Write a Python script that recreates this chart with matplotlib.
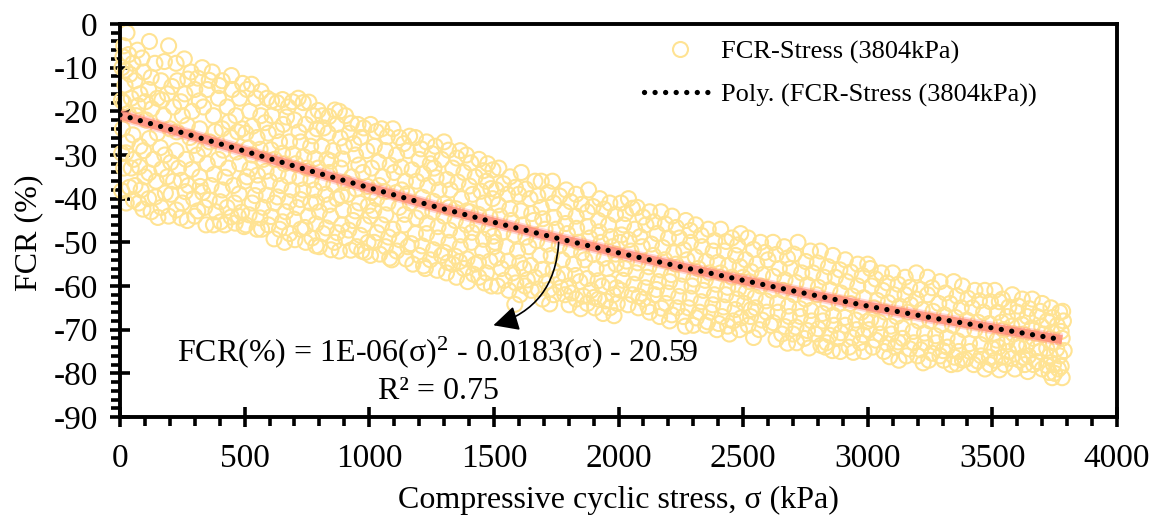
import matplotlib
matplotlib.use('Agg')
import matplotlib.pyplot as plt
from matplotlib.lines import Line2D
from matplotlib.ticker import MultipleLocator

plt.rcParams['font.family'] = ['Liberation Serif', 'DejaVu Serif']
plt.rcParams['mathtext.fontset'] = 'custom'
plt.rcParams['mathtext.rm'] = 'Liberation Serif'
plt.rcParams['mathtext.default'] = 'regular'
plt.rcParams['axes.unicode_minus'] = False

# values, (stress kPa, FCR %), one list per stress band
band_0 = [(28,-2),(15,-5),(35,-7),(8,-10),(52,-9),(70,-6),(118,-4),(195,-5),(60,-13),(20,-14),(95,-11),(140,-9),(165,-13),
          (225,-9),(258,-8),(15,-18),(45,-17),(80,-16),(115,-15),(150,-17),(190,-16),(230,-13),(285,-11),(330,-10),(370,-11),
          (410,-13),(450,-15),(300,-15),(260,-16),(215,-19),(350,-15),(395,-17),(430,-19),(480,-17),(10,-24),(65,-21),
          (105,-22),(175,-21),(250,-21),(290,-20),(335,-19),(375,-21),(465,-21),(410,-24),(320,-24),(30,-27),(150,-25),
          (200,-24),(280,-26),(360,-27),(445,-26),(490,-24),(15,-33),(55,-31),(95,-29),(135,-31),(180,-30),(225,-29),
          (265,-31),(310,-30),(350,-32),(395,-31),(435,-33),(480,-32),(25,-41),(60,-37),(100,-35),(145,-36),(190,-35),
          (235,-33),(275,-37),(320,-35),(365,-37),(410,-38),(455,-37),(500,-36),(75,-41),(115,-40),(165,-42),(205,-39),
          (250,-41),(295,-40),(340,-42),(385,-43),(430,-42),(475,-44),(125,-43),(195,-44),(270,-45),(345,-46),(375,-46),
          (420,-46),(45,-33),(80,-28),(85,-38),(215,-36),(300,-44),(460,-41)]
band_500 = [(510,-15),(545,-17),(590,-17),(630,-18),(675,-19),(715,-17),(735,-18),(775,-21),(812,-21),(880,-20),(905,-21),
            (955,-23),(520,-20),(565,-21),(610,-21),(655,-23),(700,-22),(745,-23),(790,-24),(835,-25),(870,-23),(920,-25),
            (965,-26),(505,-25),(550,-26),(595,-25),(640,-27),(680,-27),(725,-27),(765,-28),(810,-28),(855,-29),(900,-28),
            (945,-30),(990,-29),(530,-30),(575,-31),(620,-31),(660,-32),(705,-32),(750,-33),(795,-33),(840,-34),(885,-33),
            (930,-35),(975,-34),(510,-35),(555,-37),(600,-36),(645,-37),(690,-38),(735,-38),(780,-38),(825,-39),(870,-40),
            (915,-39),(960,-41),(530,-41),(575,-42),(620,-41),(665,-43),(710,-42),(755,-44),(800,-43),(845,-44),(890,-46),
            (935,-45),(980,-46),(505,-46),(550,-47),(595,-46),(640,-47),(680,-48),(725,-47),(770,-49),(815,-48),(860,-50),
            (905,-49),(950,-51),(995,-50),(660,-50),(745,-50),(800,-51),(880,-52),(970,-52),(568,-47),(830,-31),(765,-41)]
band_1000 = [(1005,-23),(1050,-24),(1095,-24),(1120,-26),(1185,-26),(1230,-27),(1265,-28),(1300,-27),(1365,-29),(1390,-30),
             (1440,-31),(1475,-32),(1020,-28),(1065,-29),(1110,-30),(1155,-29),(1200,-31),(1245,-32),(1290,-31),(1335,-33),
             (1380,-34),(1425,-35),(1470,-36),(1010,-33),(1055,-35),(1100,-34),(1145,-36),(1190,-36),(1235,-37),(1280,-38),
             (1325,-38),(1370,-40),(1415,-39),(1460,-41),(1495,-40),(1030,-40),(1075,-41),(1120,-42),(1165,-41),(1210,-43),
             (1255,-43),(1300,-44),(1345,-45),(1390,-46),(1435,-46),(1480,-47),(1005,-44),(1050,-46),(1095,-47),(1140,-46),
             (1185,-48),(1230,-48),(1275,-49),(1320,-50),(1365,-51),(1410,-50),(1455,-52),(1500,-51),(1020,-50),(1065,-51),
             (1110,-52),(1155,-51),(1200,-53),(1245,-54),(1290,-53),(1335,-55),(1380,-56),(1425,-55),(1470,-57),(1005,-53),
             (1090,-54),(1175,-55),(1225,-56),(1310,-57),(1350,-58),(1395,-59),(1440,-58),(1490,-60),(1130,-38),(1260,-33),
             (1405,-43),(1040,-37),(1320,-42)]
band_1500 = [(1520,-33),(1565,-35),(1610,-34),(1665,-36),(1690,-36),(1735,-36),(1790,-38),(1830,-39),(1880,-38),(1925,-40),
             (1965,-41),(1510,-38),(1555,-39),(1600,-39),(1645,-40),(1690,-42),(1740,-41),(1785,-43),(1830,-44),(1875,-43),
             (1920,-45),(1960,-46),(1525,-44),(1570,-45),(1615,-46),(1660,-45),(1705,-47),(1750,-47),(1795,-48),(1840,-50),
             (1885,-49),(1930,-50),(1975,-51),(1505,-50),(1550,-51),(1595,-52),(1640,-51),(1685,-53),(1730,-53),(1775,-54),
             (1820,-55),(1865,-54),(1910,-56),(1955,-56),(1990,-55),(1530,-56),(1575,-57),(1620,-56),(1665,-58),(1710,-59),
             (1755,-58),(1800,-60),(1845,-59),(1890,-61),(1935,-60),(1980,-62),(1515,-60),(1560,-61),(1605,-62),(1650,-61),
             (1695,-63),(1740,-62),(1785,-62),(1830,-63),(1875,-64),(1920,-63),(1965,-65),(1625,-60),(1905,-65),(1995,-64)]
band_2000 = [(2010,-41),(2040,-40),(2075,-42),(2125,-43),(2170,-43),(2215,-44),(2270,-45),(2310,-46),(2360,-47),(2410,-47),
             (2455,-49),(2490,-48),(2020,-46),(2065,-47),(2110,-46),(2155,-48),(2200,-49),(2245,-49),(2290,-50),(2335,-51),
             (2380,-52),(2425,-52),(2470,-53),(2005,-50),(2050,-52),(2095,-51),(2140,-53),(2185,-54),(2230,-55),(2275,-54),
             (2320,-56),(2365,-57),(2410,-57),(2455,-58),(2500,-58),(2025,-56),(2070,-57),(2115,-58),(2160,-59),(2205,-59),
             (2250,-60),(2295,-60),(2340,-61),(2385,-62),(2430,-62),(2475,-63),(2010,-61),(2055,-62),(2100,-63),(2145,-62),
             (2190,-64),(2235,-65),(2280,-65),(2325,-66),(2370,-66),(2415,-67),(2460,-68),(2080,-65),(2125,-66),(2165,-67),
             (2205,-68),(2260,-67),(2300,-69),(2350,-69),(2395,-70),(2445,-71),(2485,-70)]
band_2500 = [(2520,-49),(2570,-50),(2620,-50),(2665,-51),(2720,-50),(2770,-52),(2810,-52),(2860,-53),(2910,-54),(2960,-55),
             (3000,-55),(2510,-54),(2555,-55),(2600,-54),(2645,-56),(2690,-56),(2735,-57),(2780,-57),(2825,-58),(2870,-58),
             (2915,-59),(2960,-60),(2525,-59),(2570,-60),(2615,-61),(2660,-61),(2705,-62),(2750,-63),(2795,-62),(2840,-64),
             (2885,-64),(2930,-64),(2975,-66),(2505,-64),(2550,-65),(2595,-66),(2640,-66),(2685,-67),(2730,-67),(2775,-68),
             (2820,-68),(2865,-69),(2910,-69),(2955,-70),(2520,-69),(2565,-70),(2610,-69),(2655,-71),(2700,-71),(2745,-72),
             (2790,-71),(2835,-73),(2880,-72),(2925,-74),(2970,-73),(2530,-67),(2715,-73),(2830,-74),(2985,-75),(2890,-75)]
band_3000 = [(3010,-56),(3055,-57),(3100,-57),(3150,-58),(3195,-57),(3240,-58),(3290,-59),(3345,-59),(3380,-60),(3430,-61),
             (3470,-61),(3015,-60),(3060,-61),(3105,-62),(3150,-62),(3195,-63),(3240,-62),(3285,-64),(3330,-64),(3375,-65),
             (3420,-65),(3465,-66),(3025,-65),(3070,-66),(3115,-67),(3160,-66),(3205,-68),(3250,-68),(3295,-69),(3340,-69),
             (3385,-70),(3430,-70),(3475,-71),(3005,-70),(3050,-71),(3095,-71),(3140,-72),(3185,-73),(3230,-73),(3275,-73),
             (3320,-74),(3365,-75),(3410,-75),(3455,-76),(3020,-74),(3065,-75),(3110,-74),(3155,-76),(3200,-76),(3245,-77),
             (3290,-76),(3335,-78),(3380,-77),(3425,-78),(3470,-79),(3125,-77),(3305,-77),(3490,-78)]
band_3500 = [(3510,-61),(3540,-63),(3580,-62),(3620,-63),(3660,-63),(3700,-64),(3735,-65),(3770,-66),(3520,-66),(3560,-67),
             (3600,-66),(3640,-67),(3680,-67),(3720,-68),(3760,-69),(3785,-68),(3505,-71),(3545,-70),(3585,-71),(3625,-71),
             (3665,-72),(3705,-71),(3745,-73),(3780,-72),(3525,-74),(3565,-75),(3605,-74),(3645,-76),(3690,-75),(3730,-76),
             (3770,-76),(3510,-77),(3550,-78),(3590,-79),(3630,-78),(3665,-78),(3700,-79),(3745,-78),(3740,-81),(3750,-80),
             (3780,-81),(3610,-77),(3765,-79)]

# second pass over the cloud, the circles between the first ones
fill_0 = [(12,-7.5),(40,-11.5),(88,-7.8),(125,-12.2),(178,-8.6),(33,-20.5),(72,-18.7),(128,-19.4),(208,-14.3),(244,-17.8),
          (272,-12.6),(312,-12.4),(358,-12.9),(398,-14.1),(447,-11.8),(492,-13.6),(318,-17.6),(382,-24.6),(438,-22.4),
          (228,-24.7),(162,-28.3),(118,-26.2),(52,-25.4),(7,-29.6),(297,-27.8),(338,-28.6),(414,-28.9),(468,-29.3),
          (78,-32.7),(116,-34.1),(168,-33.2),(204,-31.7),(246,-35.8),(288,-33.3),(332,-38.6),(378,-34.4),(422,-35.1),
          (478,-38.9),(38,-37.4),(7,-38.2),(142,-39.6),(182,-38.7),(226,-42.6),(262,-38.4),(312,-42.8),(358,-40.3),
          (402,-40.7),(446,-44.2),(488,-43.1),(92,-42.4),(152,-44.3),(244,-44.4),(322,-37.2),(404,-45.3),(462,-45.6),
          (498,-46.4),(54,-40.3),(24,-29.5),(6,-17.5),(22,-10.6),(102,-17.8),(168,-17.4),(472,-24.7),(270,-23.2)]
fill_500 = [(528,-13.8),(566,-15.4),(608,-17.6),(652,-17.3),(692,-17.8),(758,-17.9),(795,-19.8),(838,-21.2),(862,-19.7),
            (928,-22.7),(978,-23.8),(532,-23.4),(582,-22.6),(628,-24.4),(668,-21.3),(718,-24.7),(772,-25.6),(818,-23.8),
            (884,-26.1),(938,-27.4),(516,-28.4),(562,-28.7),(606,-28.8),(652,-29.6),(694,-29.8),(738,-30.4),(782,-30.8),
            (846,-31.4),(892,-30.9),(958,-32.3),(522,-33.2),(586,-33.7),(634,-34.3),(676,-34.9),(722,-35.4),(766,-35.7),
            (812,-36.4),(858,-36.8),(902,-36.3),(948,-37.8),(992,-37.2),(542,-39.3),(588,-39.2),(632,-39.6),(678,-40.7),
            (724,-40.2),(788,-40.8),(838,-41.4),(896,-42.6),(944,-42.8),(996,-41.6),(518,-43.7),(562,-44.4),(606,-44.1),
            (652,-45.3),(698,-44.7),(742,-46.6),(786,-45.8),(828,-46.7),(872,-47.8),(918,-47.2),(964,-48.4),(618,-49.2),
            (702,-49.4),(786,-50.8),(846,-51.7),(926,-51.8),(984,-52.3),(552,-34.6),(888,-39.3)]
fill_1000 = [(1028,-24.6),(1072,-25.8),(1138,-27.4),(1162,-25.7),(1208,-28.6),(1252,-29.7),(1318,-28.9),(1352,-30.7),
             (1408,-31.8),(1458,-33.6),(1496,-33.4),(1038,-31.6),(1084,-32.3),(1128,-32.8),(1172,-33.4),(1218,-34.3),
             (1268,-35.2),(1312,-35.6),(1356,-36.2),(1402,-37.1),(1448,-38.3),(1488,-37.7),(1008,-38.6),(1062,-38.4),
             (1108,-38.6),(1152,-38.9),(1214,-39.7),(1258,-40.6),(1302,-41.2),(1348,-42.3),(1392,-42.8),(1438,-43.6),
             (1484,-44.2),(1018,-42.7),(1066,-43.7),(1142,-43.6),(1188,-44.4),(1232,-45.6),(1276,-46.4),(1322,-47.2),
             (1368,-48.3),(1412,-47.7),(1458,-49.3),(1498,-48.6),(1032,-47.8),(1078,-48.8),(1122,-49.4),(1168,-50.3),
             (1212,-50.8),(1258,-51.7),(1302,-52.3),(1346,-53.2),(1392,-53.8),(1438,-54.6),(1484,-54.3),(1042,-52.7),
             (1082,-53.6),(1148,-53.8),(1218,-55.4),(1272,-56.4),(1362,-54.4),(1418,-57.3),(1462,-59.3),(1316,-54.6)]
fill_1500 = [(1538,-36.6),(1586,-37.4),(1628,-37.8),(1676,-39.3),(1718,-38.6),(1764,-39.4),(1808,-40.7),(1852,-41.3),
             (1898,-41.8),(1942,-42.4),(1988,-43.6),(1518,-41.4),(1564,-42.3),(1608,-42.8),(1652,-43.4),(1696,-44.6),
             (1742,-44.3),(1788,-45.7),(1832,-46.8),(1878,-46.4),(1922,-47.6),(1968,-48.7),(1536,-47.6),(1582,-48.3),
             (1628,-48.8),(1672,-49.6),(1716,-50.4),(1762,-50.8),(1808,-51.7),(1852,-52.4),(1898,-52.8),(1942,-53.6),
             (1988,-52.7),(1512,-53.6),(1558,-54.3),(1604,-54.7),(1648,-55.3),(1694,-56.2),(1738,-56.4),(1784,-57.3),
             (1828,-57.6),(1874,-58.3),(1918,-58.8),(1964,-59.3),(1542,-58.7),(1588,-59.3),(1634,-58.6),(1678,-60.7),
             (1722,-60.8),(1768,-60.4),(1812,-61.6),(1858,-62.3),(1902,-62.6),(1948,-63.4),(1992,-60.4),(1584,-64.2),
             (1724,-64.1),(1802,-64.3),(1848,-65.2),(1938,-66.3),(1982,-66.8)]
fill_2000 = [(2028,-43.4),(2056,-42.2),(2098,-44.2),(2142,-45.3),(2188,-45.8),(2232,-46.6),(2288,-47.3),(2332,-48.4),
             (2386,-49.6),(2432,-49.8),(2478,-50.6),(2012,-48.3),(2042,-49.4),(2086,-48.7),(2132,-50.4),(2178,-51.2),
             (2222,-52.4),(2262,-51.7),(2308,-53.3),(2352,-54.4),(2398,-54.6),(2442,-55.3),(2488,-55.6),(2032,-54.3),
             (2078,-54.7),(2122,-55.6),(2168,-56.3),(2212,-57.4),(2258,-57.3),(2302,-58.4),(2348,-58.7),(2392,-59.6),
             (2438,-60.3),(2482,-60.6),(2018,-58.7),(2062,-59.6),(2108,-60.4),(2152,-60.8),(2198,-61.6),(2242,-62.4),
             (2288,-62.8),(2332,-63.6),(2378,-64.3),(2422,-64.8),(2468,-65.4),(2038,-64.3),(2082,-62.4),(2118,-64.7),
             (2214,-66.6),(2268,-69.2),(2312,-67.3),(2358,-68.2),(2402,-68.6),(2438,-69.2),(2492,-67.3),(2172,-65.1)]
fill_2500 = [(2542,-51.6),(2588,-52.3),(2632,-52.8),(2678,-53.6),(2704,-52.7),(2752,-54.4),(2798,-54.7),(2842,-55.6),
             (2888,-56.3),(2932,-56.8),(2978,-57.6),(2532,-56.7),(2578,-57.4),(2622,-57.8),(2668,-58.6),(2712,-59.2),
             (2758,-59.7),(2802,-60.3),(2848,-60.8),(2892,-61.6),(2938,-62.3),(2984,-62.7),(2512,-61.4),(2548,-62.6),
             (2592,-63.4),(2638,-63.8),(2682,-64.6),(2728,-65.2),(2772,-65.6),(2818,-66.3),(2862,-66.7),(2908,-67.2),
             (2952,-67.8),(2996,-68.2),(2532,-65.4),(2576,-67.8),(2622,-68.4),(2668,-69.3),(2712,-69.4),(2758,-70.2),
             (2802,-69.8),(2848,-71.3),(2892,-70.7),(2938,-71.8),(2982,-71.2),(2542,-71.8),(2632,-72.2),(2678,-73.1),
             (2764,-74.2),(2812,-73.6),(2942,-75.2),(2858,-74.8)]
fill_3000 = [(3032,-58.4),(3078,-59.3),(3122,-59.6),(3168,-60.3),(3212,-60.8),(3258,-60.4),(3312,-61.6),(3358,-62.3),
             (3402,-62.8),(3448,-63.4),(3492,-63.6),(3038,-63.3),(3082,-63.8),(3128,-64.6),(3172,-64.3),(3218,-65.4),
             (3262,-65.8),(3308,-66.6),(3352,-67.2),(3398,-67.8),(3442,-68.3),(3488,-68.6),(3012,-67.6),(3048,-68.4),
             (3092,-69.2),(3138,-69.6),(3182,-70.4),(3228,-70.8),(3272,-71.4),(3318,-71.8),(3362,-72.6),(3408,-73.2),
             (3452,-73.4),(3498,-74.2),(3032,-72.4),(3078,-73.2),(3122,-72.8),(3168,-74.4),(3212,-74.6),(3258,-75.4),
             (3302,-74.8),(3348,-76.3),(3392,-76.8),(3442,-77.2),(3488,-76.3),(3088,-76.2),(3222,-77.6),(3358,-77.8)]
fill_3500 = [(3528,-63.6),(3566,-64.8),(3604,-64.6),(3648,-65.2),(3692,-65.8),(3742,-67.2),(3782,-65.8),(3536,-68.3),
             (3578,-69.2),(3618,-68.8),(3658,-69.6),(3698,-69.3),(3738,-70.6),(3776,-70.4),(3518,-72.4),(3558,-72.8),
             (3598,-73.4),(3638,-73.6),(3678,-74.2),(3718,-74.3),(3758,-74.4),(3788,-74.8),(3538,-76.3),(3578,-76.6),
             (3622,-76.3),(3678,-77.3),(3718,-78.2),(3776,-78.4),(3528,-79.2),(3642,-79.6),(3728,-79.8)]

trend_stress = [0, 250, 500, 750, 1000, 1250, 1500, 1750, 2000, 2250, 2500, 2750, 3000, 3250, 3500, 3780]
trend_fcr = [-20.8, -24.9, -29.1, -33.4, -37.5, -41.6, -45.4, -49.0, -52.4, -55.6, -58.7, -61.7, -64.6, -67.2, -69.6, -72.3]

x_ticks = [0, 500, 1000, 1500, 2000, 2500, 3000, 3500, 4000]
y_ticks = [0, -10, -20, -30, -40, -50, -60, -70, -80, -90]

all_points = (band_0 + band_500 + band_1000 + band_1500 + band_2000 + band_2500 + band_3000 + band_3500
              + fill_0 + fill_500 + fill_1000 + fill_1500 + fill_2000 + fill_2500 + fill_3000 + fill_3500)
stress = [p[0] for p in all_points]
fcr = [p[1] for p in all_points]

circle_col = '#FFE393'

fig = plt.figure(figsize=(11.56, 5.19), dpi=100)
ax = fig.add_axes([120/1156, 1 - 417/519, (1117 - 120)/1156, (417 - 24)/519])

ax.scatter(stress, fcr, s=117, facecolors='none', edgecolors=circle_col, linewidths=1.5, clip_on=False, zorder=2)

# soft red band under the dotted trend line
ax.plot(trend_stress, trend_fcr, color='#FF8A78', lw=9, alpha=0.35, solid_capstyle='butt', zorder=3)
ax.plot(trend_stress, trend_fcr, color='#FF8A78', lw=6.5, alpha=0.8, solid_capstyle='butt', zorder=3)
ax.plot(trend_stress, trend_fcr, color='black', lw=3.8, linestyle=(0, (0.01, 1.99)),
        dash_capstyle='round', zorder=4)

ax.set_xlim(0, 4000)
ax.set_ylim(-90, 0)
ax.set_xticks(x_ticks)
ax.set_yticks(y_ticks)
ax.xaxis.set_minor_locator(MultipleLocator(100))
ax.yaxis.set_minor_locator(MultipleLocator(2))
ax.tick_params(axis='both', which='major', direction='inout', length=14, width=2.6, labelsize=24)
ax.tick_params(axis='both', which='minor', direction='out', length=6.5, width=2.6)
ax.tick_params(axis='x', which='major', pad=12)
ax.tick_params(axis='y', which='major', pad=9)
for side in ax.spines:
    ax.spines[side].set_linewidth(2.8)

ax.set_xlabel('Compressive cyclic stress, σ (kPa)', fontsize=23, labelpad=9)
ax.set_ylabel('FCR (%)', fontsize=23, labelpad=7, y=0.47)

ax.annotate('', xy=(1498, -69), xytext=(1760, -50),
            arrowprops=dict(arrowstyle='-|>,head_length=0.7,head_width=0.35', mutation_scale=22, color='black', lw=1.2,
                            connectionstyle='arc3,rad=-0.35', shrinkA=0, shrinkB=0), zorder=5)

ax.text(0.319, 0.165, 'FCR(%) = 1E-06(σ)$^{2}$ - 0.0183(σ) - 20.59', transform=ax.transAxes,
        ha='center', va='center', fontsize=23, zorder=6)
ax.text(0.319, 0.066, 'R² = 0.75', transform=ax.transAxes, ha='center', va='center', fontsize=23, zorder=6)

handles = [Line2D([], [], linestyle='none', marker='o', markersize=10.8, markerfacecolor='none',
                  markeredgecolor=circle_col, markeredgewidth=1.5),
           Line2D([], [], color='black', lw=3.8, linestyle=(0, (0.01, 1.99)), dash_capstyle='round')]
ax.legend(handles, ['FCR-Stress (3804kPa)', 'Poly. (FCR-Stress (3804kPa))'], frameon=False, fontsize=19,
          loc='upper left', bbox_to_anchor=(0.526, 0.96), borderaxespad=0, borderpad=0, labelspacing=0.72,
          handlelength=2.7, handletextpad=0.2)

plt.savefig('out.png', dpi=100)
